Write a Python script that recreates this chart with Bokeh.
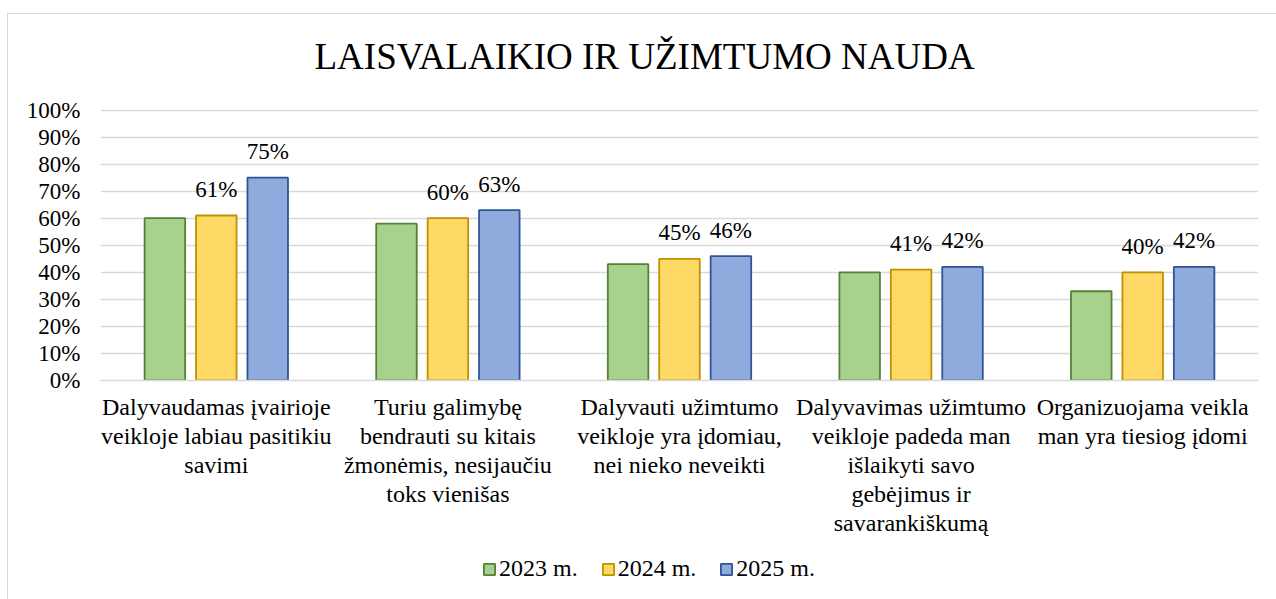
from bokeh.plotting import figure
from bokeh.models import (ColumnDataSource, FactorRange, NumeralTickFormatter,
                          Legend, LegendItem, FixedTicker)
from bokeh.transform import dodge
from bokeh.core.properties import value
from bokeh.embed import file_html
from bokeh.resources import INLINE

# ---------------- data ----------------
title_text = "LAISVALAIKIO IR UŽIMTUMO NAUDA"
categories = [
    "Dalyvaudamas įvairioje\nveikloje labiau pasitikiu\nsavimi",
    "Turiu galimybę\nbendrauti su kitais\nžmonėmis, nesijaučiu\ntoks vienišas",
    "Dalyvauti užimtumo\nveikloje yra įdomiau,\nnei nieko neveikti",
    "Dalyvavimas užimtumo\nveikloje padeda man\nišlaikyti savo\ngebėjimus ir\nsavarankiškumą",
    "Organizuojama veikla\nman yra tiesiog įdomi",
]
series_names = ["2023 m.", "2024 m.", "2025 m."]
v2023 = [0.60, 0.58, 0.43, 0.40, 0.33]
v2024 = [0.61, 0.60, 0.45, 0.41, 0.40]
v2025 = [0.75, 0.63, 0.46, 0.42, 0.42]
y_ticks = [0.0, 0.1, 0.2, 0.3, 0.4, 0.5, 0.6, 0.7, 0.8, 0.9, 1.0]

# ---------------- styles ----------------
FONT = "Liberation Serif"
fills = ["#A9D18E", "#FFD966", "#8FAADC"]
lines = ["#548235", "#BF9000", "#2F5597"]
offsets = [-0.222, 0.0, 0.222]
show_labels = [False, True, True]
BAR_W = 0.175
GRID = "#d9d9d9"

src = ColumnDataSource(dict(
    cat=categories,
    v2023=v2023, v2024=v2024, v2025=v2025,
    l2023=[f"{round(v*100)}%" for v in v2023],
    l2024=[f"{round(v*100)}%" for v in v2024],
    l2025=[f"{round(v*100)}%" for v in v2025],
))

p = figure(
    x_range=FactorRange(factors=categories, range_padding=0),
    y_range=(0, 1.002),
    frame_width=1158, frame_height=271,
    output_backend="svg", toolbar_location=None,
    min_border_left=100, min_border_right=18,
    min_border_top=109, min_border_bottom=219,
)
p.outline_line_color = None
p.background_fill_color = "white"
p.border_fill_color = "white"
# light grey chart-area border (left and top visible, as in the reference)
p.stylesheets = [
    ":host::after { content: ''; position: absolute; left: 7px; top: 13px; "
    "right: -6px; bottom: -6px; border: 1px solid #d9d9d9; "
    "pointer-events: none; }"
]

p.title.text = title_text
p.title.text_font = FONT
p.title.text_font_size = "37px"
p.title.text_font_style = "normal"
p.title.text_color = "#000000"
p.title.text_line_height = 1.0
p.title.align = "left"
p.title.offset = 214
p.title.standoff = 65

keys = ["2023", "2024", "2025"]
items = []
for i, k in enumerate(keys):
    r = p.vbar(x=dodge("cat", offsets[i], range=p.x_range), top="v" + k,
               width=BAR_W, source=src, fill_color=fills[i],
               line_color=lines[i], line_width=1.8)
    items.append(LegendItem(label=series_names[i], renderers=[r]))
    if show_labels[i]:
        p.text(x=dodge("cat", offsets[i], range=p.x_range), y="v" + k,
               text="l" + k, source=src, text_align="center",
               text_baseline="alphabetic", y_offset=-26,
               text_font=value(FONT), text_font_size="23px",
               text_color="#000000")

# y axis
p.yaxis.ticker = FixedTicker(ticks=y_ticks)
p.yaxis.formatter = NumeralTickFormatter(format="0%")
p.yaxis.axis_line_color = None
p.yaxis.major_tick_line_color = None
p.yaxis.minor_tick_line_color = None
p.yaxis.major_tick_out = 0
p.yaxis.major_tick_in = 0
p.yaxis.major_label_standoff = 20
p.yaxis.major_label_text_font = FONT
p.yaxis.major_label_text_font_size = "23px"
p.yaxis.major_label_text_color = "#000000"

# x axis
p.xaxis.axis_line_color = GRID
p.xaxis.axis_line_width = 1.5
p.xaxis.major_tick_line_color = None
p.xaxis.minor_tick_line_color = None
p.xaxis.major_tick_out = 0
p.xaxis.major_tick_in = 0
p.xaxis.major_label_standoff = 13
p.xaxis.major_label_text_font = FONT
p.xaxis.major_label_text_font_size = "24px"
p.xaxis.major_label_text_line_height = 1.12
p.xaxis.major_label_text_color = "#000000"

p.xgrid.grid_line_color = None
p.ygrid.grid_line_color = GRID
p.ygrid.grid_line_width = 1.5

# legend lives in the right side panel (not clipped) and is shifted back
# under the plot area, centred like the reference
legend = Legend(items=items, orientation="horizontal", location=(-776, -202),
                glyph_width=14, glyph_height=14, label_standoff=3,
                spacing=23, padding=0, margin=0,
                border_line_color=None, background_fill_alpha=0,
                label_text_font=FONT, label_text_font_size="24px",
                label_text_color="#000000")
p.add_layout(legend, "right")

open("out.html", "w").write(file_html(p, INLINE))
